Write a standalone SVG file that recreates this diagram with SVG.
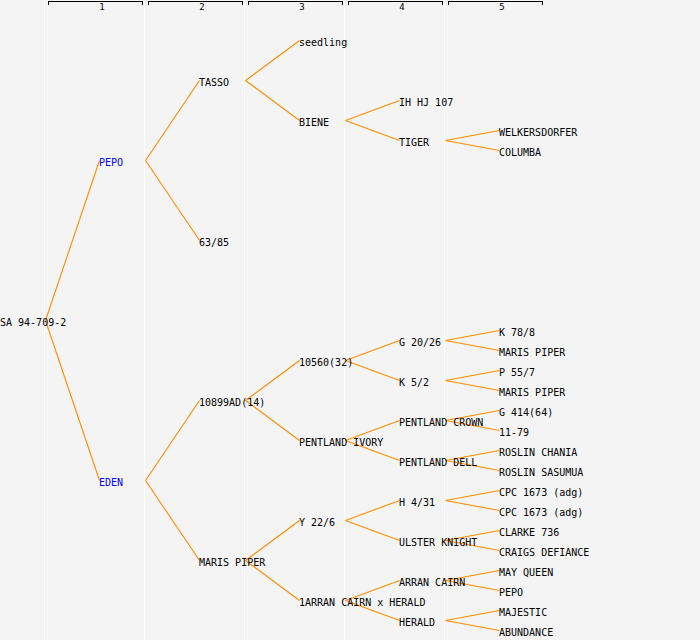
<svg xmlns="http://www.w3.org/2000/svg" width="700" height="640" viewBox="0 0 700 640">
<style>
.bg{fill:#f4f4f4}
.sep{stroke:#ffffff;stroke-width:1;shape-rendering:crispEdges}
.hdr{fill:none;stroke:#000000;stroke-width:1;shape-rendering:crispEdges}
.hn{font-family:"DejaVu Sans Mono","Liberation Mono",monospace;font-size:9px;fill:#000000;text-anchor:middle}
.t{font-family:"DejaVu Sans Mono","Liberation Mono",monospace;font-size:10px;fill:#000000}
.b{fill:#0000ff}
.c line{stroke:#ff8c00;stroke-width:1.1}
</style>
<rect class="bg" x="0" y="0" width="700" height="640"/>
<g id="columns">
<line class="sep" x1="44.5" y1="0" x2="44.5" y2="640"/>
<line class="sep" x1="144.5" y1="0" x2="144.5" y2="640"/>
<line class="sep" x1="244.5" y1="0" x2="244.5" y2="640"/>
<line class="sep" x1="344.5" y1="0" x2="344.5" y2="640"/>
<line class="sep" x1="444.5" y1="0" x2="444.5" y2="640"/>
<path class="hdr" d="M48.5,4.5V1.5H142.5V4.5"/>
<path class="hdr" d="M148.5,4.5V1.5H242.5V4.5"/>
<path class="hdr" d="M248.5,4.5V1.5H342.5V4.5"/>
<path class="hdr" d="M348.5,4.5V1.5H442.5V4.5"/>
<path class="hdr" d="M448.5,4.5V1.5H542.5V4.5"/>
<text class="hn" x="102" y="9.5">1</text>
<text class="hn" x="202" y="9.5">2</text>
<text class="hn" x="302" y="9.5">3</text>
<text class="hn" x="402" y="9.5">4</text>
<text class="hn" x="502" y="9.5">5</text>
</g>
<g id="connectors" class="c">
<line x1="45.5" y1="320.5" x2="99.5" y2="160.5"/>
<line x1="45.5" y1="320.5" x2="99.5" y2="480.5"/>
<line x1="145.5" y1="160.5" x2="199.5" y2="80.5"/>
<line x1="145.5" y1="160.5" x2="199.5" y2="240.5"/>
<line x1="145.5" y1="480.5" x2="199.5" y2="400.5"/>
<line x1="145.5" y1="480.5" x2="199.5" y2="560.5"/>
<line x1="245.5" y1="80.5" x2="299.5" y2="40.5"/>
<line x1="245.5" y1="80.5" x2="299.5" y2="120.5"/>
<line x1="245.5" y1="400.5" x2="299.5" y2="360.5"/>
<line x1="245.5" y1="400.5" x2="299.5" y2="440.5"/>
<line x1="245.5" y1="560.5" x2="299.5" y2="520.5"/>
<line x1="245.5" y1="560.5" x2="299.5" y2="600.5"/>
<line x1="345.5" y1="120.5" x2="399.5" y2="100.5"/>
<line x1="345.5" y1="120.5" x2="399.5" y2="140.5"/>
<line x1="345.5" y1="360.5" x2="399.5" y2="340.5"/>
<line x1="345.5" y1="360.5" x2="399.5" y2="380.5"/>
<line x1="345.5" y1="440.5" x2="399.5" y2="420.5"/>
<line x1="345.5" y1="440.5" x2="399.5" y2="460.5"/>
<line x1="345.5" y1="520.5" x2="399.5" y2="500.5"/>
<line x1="345.5" y1="520.5" x2="399.5" y2="540.5"/>
<line x1="345.5" y1="600.5" x2="399.5" y2="580.5"/>
<line x1="345.5" y1="600.5" x2="399.5" y2="620.5"/>
<line x1="445.5" y1="140.5" x2="499.5" y2="130.5"/>
<line x1="445.5" y1="140.5" x2="499.5" y2="150.5"/>
<line x1="445.5" y1="340.5" x2="499.5" y2="330.5"/>
<line x1="445.5" y1="340.5" x2="499.5" y2="350.5"/>
<line x1="445.5" y1="380.5" x2="499.5" y2="370.5"/>
<line x1="445.5" y1="380.5" x2="499.5" y2="390.5"/>
<line x1="445.5" y1="420.5" x2="499.5" y2="410.5"/>
<line x1="445.5" y1="420.5" x2="499.5" y2="430.5"/>
<line x1="445.5" y1="460.5" x2="499.5" y2="450.5"/>
<line x1="445.5" y1="460.5" x2="499.5" y2="470.5"/>
<line x1="445.5" y1="500.5" x2="499.5" y2="490.5"/>
<line x1="445.5" y1="500.5" x2="499.5" y2="510.5"/>
<line x1="445.5" y1="540.5" x2="499.5" y2="530.5"/>
<line x1="445.5" y1="540.5" x2="499.5" y2="550.5"/>
<line x1="445.5" y1="580.5" x2="499.5" y2="570.5"/>
<line x1="445.5" y1="580.5" x2="499.5" y2="590.5"/>
<line x1="445.5" y1="620.5" x2="499.5" y2="610.5"/>
<line x1="445.5" y1="620.5" x2="499.5" y2="630.5"/>
</g>
<g id="n-sa"><text class="t" x="0" y="326">SA 94-709-2</text></g>
<g id="n-pepo"><text class="t b" x="99" y="166">PEPO</text></g>
<g id="n-eden"><text class="t b" x="99" y="486">EDEN</text></g>
<g id="n-tasso"><text class="t" x="199" y="86">TASSO</text></g>
<g id="n-6385"><text class="t" x="199" y="246">63/85</text></g>
<g id="n-10899ad"><text class="t" x="199" y="406">10899AD(14)</text></g>
<g id="n-marispiper2"><text class="t" x="199" y="566">MARIS PIPER</text></g>
<g id="n-seedling"><text class="t" x="299" y="46">seedling</text></g>
<g id="n-biene"><text class="t" x="299" y="126">BIENE</text></g>
<g id="n-10560"><text class="t" x="299" y="366">10560(32)</text></g>
<g id="n-pentlandivory"><text class="t" x="299" y="446">PENTLAND IVORY</text></g>
<g id="n-y226"><text class="t" x="299" y="526">Y 22/6</text></g>
<g id="n-1arran"><text class="t" x="299" y="606">1ARRAN CAIRN x HERALD</text></g>
<g id="n-ihhj107"><text class="t" x="399" y="106">IH HJ 107</text></g>
<g id="n-tiger"><text class="t" x="399" y="146">TIGER</text></g>
<g id="n-g2026"><text class="t" x="399" y="346">G 20/26</text></g>
<g id="n-k52"><text class="t" x="399" y="386">K 5/2</text></g>
<g id="n-pentlandcrown"><text class="t" x="399" y="426">PENTLAND CROWN</text></g>
<g id="n-pentlanddell"><text class="t" x="399" y="466">PENTLAND DELL</text></g>
<g id="n-h431"><text class="t" x="399" y="506">H 4/31</text></g>
<g id="n-ulsterknight"><text class="t" x="399" y="546">ULSTER KNIGHT</text></g>
<g id="n-arrancairn"><text class="t" x="399" y="586">ARRAN CAIRN</text></g>
<g id="n-herald"><text class="t" x="399" y="626">HERALD</text></g>
<g id="n-welkersdorfer"><text class="t" x="499" y="136">WELKERSDORFER</text></g>
<g id="n-columba"><text class="t" x="499" y="156">COLUMBA</text></g>
<g id="n-k788"><text class="t" x="499" y="336">K 78/8</text></g>
<g id="n-marispiper5a"><text class="t" x="499" y="356">MARIS PIPER</text></g>
<g id="n-p557"><text class="t" x="499" y="376">P 55/7</text></g>
<g id="n-marispiper5b"><text class="t" x="499" y="396">MARIS PIPER</text></g>
<g id="n-g41464"><text class="t" x="499" y="416">G 414(64)</text></g>
<g id="n-1179"><text class="t" x="499" y="436">11-79</text></g>
<g id="n-roslinchania"><text class="t" x="499" y="456">ROSLIN CHANIA</text></g>
<g id="n-roslinsasumua"><text class="t" x="499" y="476">ROSLIN SASUMUA</text></g>
<g id="n-cpc1673a"><text class="t" x="499" y="496">CPC 1673 (adg)</text></g>
<g id="n-cpc1673b"><text class="t" x="499" y="516">CPC 1673 (adg)</text></g>
<g id="n-clarke736"><text class="t" x="499" y="536">CLARKE 736</text></g>
<g id="n-craigsdefiance"><text class="t" x="499" y="556">CRAIGS DEFIANCE</text></g>
<g id="n-mayqueen"><text class="t" x="499" y="576">MAY QUEEN</text></g>
<g id="n-pepo5"><text class="t" x="499" y="596">PEPO</text></g>
<g id="n-majestic"><text class="t" x="499" y="616">MAJESTIC</text></g>
<g id="n-abundance"><text class="t" x="499" y="636">ABUNDANCE</text></g>
</svg>
